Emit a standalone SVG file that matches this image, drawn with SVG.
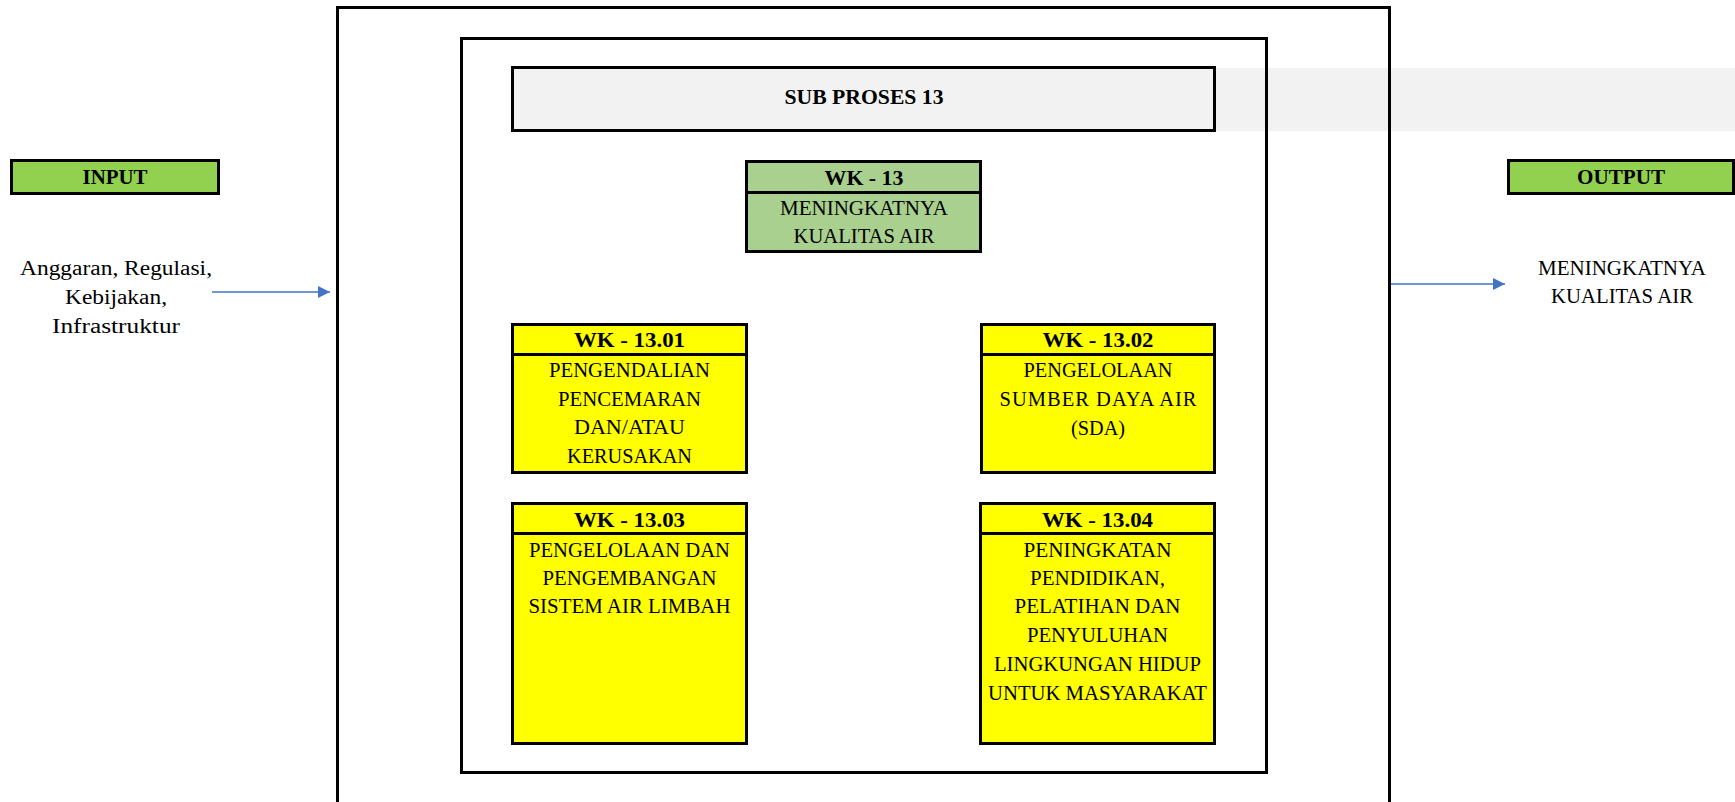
<svg xmlns="http://www.w3.org/2000/svg" width="1735" height="802" viewBox="0 0 1735 802">
<style>
.frame{fill:none;stroke:#000;stroke-width:3}
.box{stroke:#000;stroke-width:3}
.t{font-family:"Liberation Serif",serif;font-size:20.5px;fill:#000;text-anchor:middle}
.b{font-family:"Liberation Serif",serif;font-size:21.5px;font-weight:bold;fill:#000;text-anchor:middle}
.yellow{fill:#FFFF00}
.lg{fill:#A9D08E}
.g{fill:#92D050}
.conn{stroke:#4472C4;stroke-width:1.3;fill:none}
</style>
<defs>
<marker id="ah" viewBox="0 0 10 10" refX="10" refY="5" markerWidth="12" markerHeight="12" markerUnits="userSpaceOnUse" orient="auto">
<path d="M0,0 L10,5 L0,10 Z" fill="#4472C4"/>
</marker>
</defs>
<rect x="0" y="0" width="1735" height="802" fill="#fff"/>
<rect x="1215" y="68" width="520" height="63" fill="#F2F2F2"/>
<g id="outer"><rect class="frame" x="337.5" y="7.5" width="1052" height="810"/></g>
<g id="inner"><rect class="frame" x="461.5" y="38.5" width="805" height="734"/></g>
<g id="subproses">
<rect class="box" x="512.5" y="67.5" width="702" height="63" fill="#F2F2F2"/>
<text class="b" x="864" y="104" textLength="159" lengthAdjust="spacingAndGlyphs">SUB PROSES 13</text>
</g>
<g id="input">
<rect class="box g" x="11.5" y="160.5" width="207" height="33"/>
<text class="b" x="115" y="184" textLength="65" lengthAdjust="spacingAndGlyphs">INPUT</text>
<text class="t" x="116" y="275" textLength="192" lengthAdjust="spacingAndGlyphs">Anggaran, Regulasi,</text>
<text class="t" x="116" y="304" textLength="102" lengthAdjust="spacingAndGlyphs">Kebijakan,</text>
<text class="t" x="116" y="333" textLength="128" lengthAdjust="spacingAndGlyphs">Infrastruktur</text>
</g>
<g id="output">
<rect class="box g" x="1508.5" y="160.5" width="225" height="33"/>
<text class="b" x="1621" y="184" textLength="88" lengthAdjust="spacingAndGlyphs">OUTPUT</text>
<text class="t" x="1622" y="275" textLength="168" lengthAdjust="spacingAndGlyphs">MENINGKATNYA</text>
<text class="t" x="1622" y="303" textLength="142" lengthAdjust="spacingAndGlyphs">KUALITAS AIR</text>
</g>
<g id="wk13">
<rect class="box lg" x="746.5" y="161.5" width="234" height="90"/>
<line x1="746.5" y1="192.5" x2="980.5" y2="192.5" stroke="#000" stroke-width="3"/>
<text class="b" x="864" y="185" textLength="79" lengthAdjust="spacingAndGlyphs">WK - 13</text>
<text class="t" x="864" y="215" textLength="168" lengthAdjust="spacingAndGlyphs">MENINGKATNYA</text>
<text class="t" x="864" y="243" textLength="141" lengthAdjust="spacingAndGlyphs">KUALITAS AIR</text>
</g>
<g id="wk1301">
<rect class="box yellow" x="512.5" y="324.5" width="234" height="148"/>
<line x1="512.5" y1="354.5" x2="746.5" y2="354.5" stroke="#000" stroke-width="3"/>
<text class="b" x="629.5" y="347" textLength="111" lengthAdjust="spacingAndGlyphs">WK - 13.01</text>
<text class="t" x="629.5" y="377" textLength="161" lengthAdjust="spacingAndGlyphs">PENGENDALIAN</text>
<text class="t" x="629.5" y="405.7" textLength="143" lengthAdjust="spacingAndGlyphs">PENCEMARAN</text>
<text class="t" x="629.5" y="434.4" textLength="111" lengthAdjust="spacingAndGlyphs">DAN/ATAU</text>
<text class="t" x="629.5" y="463" textLength="125" lengthAdjust="spacingAndGlyphs">KERUSAKAN</text>
</g>
<g id="wk1302">
<rect class="box yellow" x="981.5" y="324.5" width="233" height="148"/>
<line x1="981.5" y1="354.5" x2="1214.5" y2="354.5" stroke="#000" stroke-width="3"/>
<text class="b" x="1098" y="347" textLength="111" lengthAdjust="spacingAndGlyphs">WK - 13.02</text>
<text class="t" x="1098" y="377" textLength="149" lengthAdjust="spacingAndGlyphs">PENGELOLAAN</text>
<text class="t" x="1098" y="406" textLength="197" lengthAdjust="spacing">SUMBER DAYA AIR</text>
<text class="t" x="1098" y="435" textLength="54" lengthAdjust="spacingAndGlyphs">(SDA)</text>
</g>
<g id="wk1303">
<rect class="box yellow" x="512.5" y="503.5" width="234" height="240"/>
<line x1="512.5" y1="533.5" x2="746.5" y2="533.5" stroke="#000" stroke-width="3"/>
<text class="b" x="629.5" y="527" textLength="111" lengthAdjust="spacingAndGlyphs">WK - 13.03</text>
<text class="t" x="629.5" y="557" textLength="201" lengthAdjust="spacingAndGlyphs">PENGELOLAAN DAN</text>
<text class="t" x="629.5" y="585" textLength="174" lengthAdjust="spacingAndGlyphs">PENGEMBANGAN</text>
<text class="t" x="629.5" y="613" textLength="202" lengthAdjust="spacingAndGlyphs">SISTEM AIR LIMBAH</text>
</g>
<g id="wk1304">
<rect class="box yellow" x="980.5" y="503.5" width="234" height="240"/>
<line x1="980.5" y1="533.5" x2="1214.5" y2="533.5" stroke="#000" stroke-width="3"/>
<text class="b" x="1097.5" y="527" textLength="111" lengthAdjust="spacingAndGlyphs">WK - 13.04</text>
<text class="t" x="1097.5" y="557" textLength="148" lengthAdjust="spacingAndGlyphs">PENINGKATAN</text>
<text class="t" x="1097.5" y="585" textLength="135" lengthAdjust="spacingAndGlyphs">PENDIDIKAN,</text>
<text class="t" x="1097.5" y="613" textLength="166" lengthAdjust="spacingAndGlyphs">PELATIHAN DAN</text>
<text class="t" x="1097.5" y="642" textLength="141" lengthAdjust="spacingAndGlyphs">PENYULUHAN</text>
<text class="t" x="1097.5" y="671" textLength="207" lengthAdjust="spacingAndGlyphs">LINGKUNGAN HIDUP</text>
<text class="t" x="1097.5" y="700" textLength="219" lengthAdjust="spacingAndGlyphs">UNTUK MASYARAKAT</text>
</g>
<g id="connectors">
<line class="conn" x1="212" y1="292" x2="330" y2="292" marker-end="url(#ah)"/>
<line class="conn" x1="1391" y1="284" x2="1505" y2="284" marker-end="url(#ah)"/>
</g>
</svg>
